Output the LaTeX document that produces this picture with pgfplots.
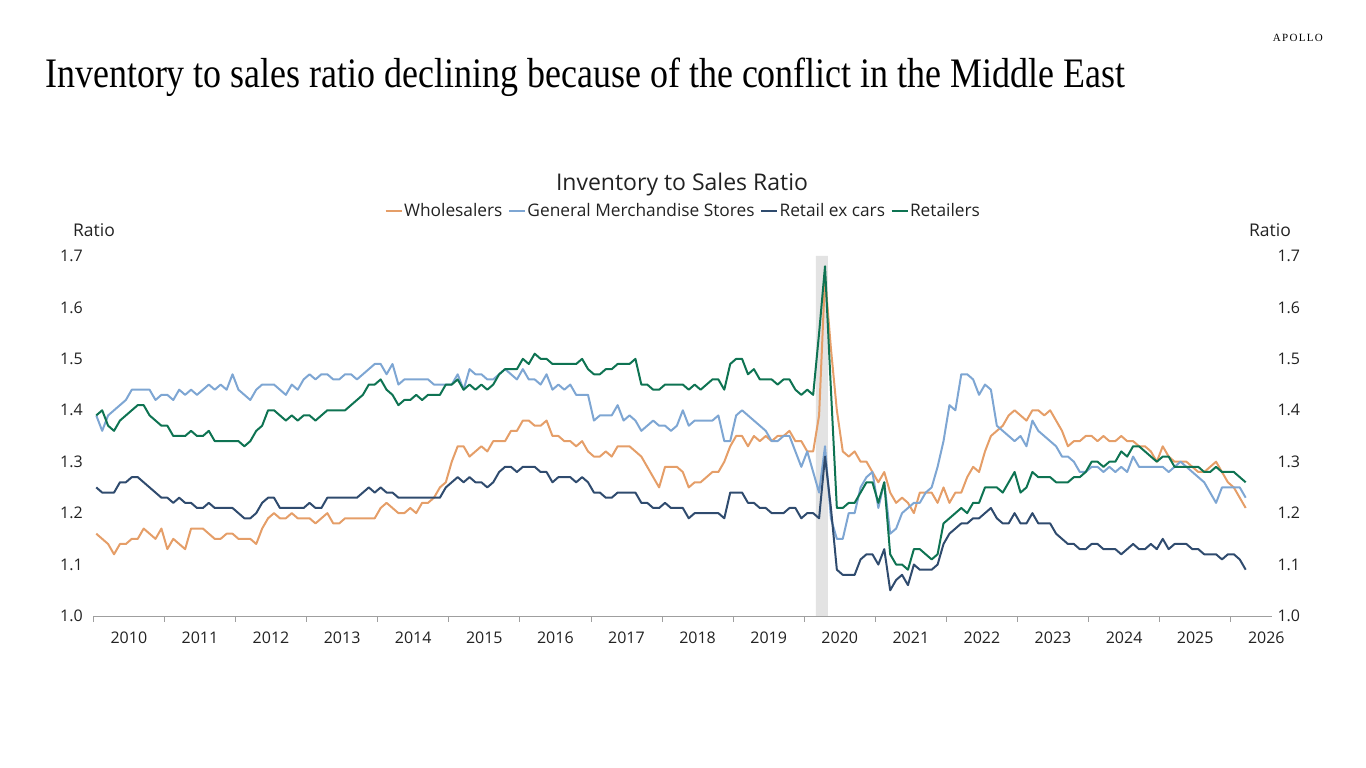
\documentclass[border=0pt]{standalone}
\usepackage{pgfplots}
\pgfplotsset{compat=1.18}
\usepackage{pgfplotstable}
\usepackage{graphicx}
\usepackage{fontspec}
\setmainfont{Open Sans}
\newfontfamily\titlefont{Liberation Serif}
\definecolor{cW}{HTML}{E59E68}
\definecolor{cG}{HTML}{7EA6D3}
\definecolor{cN}{HTML}{2F4B6E}
\definecolor{cR}{HTML}{0E7352}
\definecolor{txt}{HTML}{222222}

\pgfplotstableread{
m W G N R
0 1.16 1.39 1.25 1.39
1 1.15 1.36 1.24 1.40
2 1.14 1.39 1.24 1.37
3 1.12 1.40 1.24 1.36
4 1.14 1.41 1.26 1.38
5 1.14 1.42 1.26 1.39
6 1.15 1.44 1.27 1.40
7 1.15 1.44 1.27 1.41
8 1.17 1.44 1.26 1.41
9 1.16 1.44 1.25 1.39
10 1.15 1.42 1.24 1.38
11 1.17 1.43 1.23 1.37
12 1.13 1.43 1.23 1.37
13 1.15 1.42 1.22 1.35
14 1.14 1.44 1.23 1.35
15 1.13 1.43 1.22 1.35
16 1.17 1.44 1.22 1.36
17 1.17 1.43 1.21 1.35
18 1.17 1.44 1.21 1.35
19 1.16 1.45 1.22 1.36
20 1.15 1.44 1.21 1.34
21 1.15 1.45 1.21 1.34
22 1.16 1.44 1.21 1.34
23 1.16 1.47 1.21 1.34
24 1.15 1.44 1.20 1.34
25 1.15 1.43 1.19 1.33
26 1.15 1.42 1.19 1.34
27 1.14 1.44 1.20 1.36
28 1.17 1.45 1.22 1.37
29 1.19 1.45 1.23 1.40
30 1.20 1.45 1.23 1.40
31 1.19 1.44 1.21 1.39
32 1.19 1.43 1.21 1.38
33 1.20 1.45 1.21 1.39
34 1.19 1.44 1.21 1.38
35 1.19 1.46 1.21 1.39
36 1.19 1.47 1.22 1.39
37 1.18 1.46 1.21 1.38
38 1.19 1.47 1.21 1.39
39 1.20 1.47 1.23 1.40
40 1.18 1.46 1.23 1.40
41 1.18 1.46 1.23 1.40
42 1.19 1.47 1.23 1.40
43 1.19 1.47 1.23 1.41
44 1.19 1.46 1.23 1.42
45 1.19 1.47 1.24 1.43
46 1.19 1.48 1.25 1.45
47 1.19 1.49 1.24 1.45
48 1.21 1.49 1.25 1.46
49 1.22 1.47 1.24 1.44
50 1.21 1.49 1.24 1.43
51 1.20 1.45 1.23 1.41
52 1.20 1.46 1.23 1.42
53 1.21 1.46 1.23 1.42
54 1.20 1.46 1.23 1.43
55 1.22 1.46 1.23 1.42
56 1.22 1.46 1.23 1.43
57 1.23 1.45 1.23 1.43
58 1.25 1.45 1.23 1.43
59 1.26 1.45 1.25 1.45
60 1.30 1.45 1.26 1.45
61 1.33 1.47 1.27 1.46
62 1.33 1.44 1.26 1.44
63 1.31 1.48 1.27 1.45
64 1.32 1.47 1.26 1.44
65 1.33 1.47 1.26 1.45
66 1.32 1.46 1.25 1.44
67 1.34 1.46 1.26 1.45
68 1.34 1.47 1.28 1.47
69 1.34 1.48 1.29 1.48
70 1.36 1.47 1.29 1.48
71 1.36 1.46 1.28 1.48
72 1.38 1.48 1.29 1.50
73 1.38 1.46 1.29 1.49
74 1.37 1.46 1.29 1.51
75 1.37 1.45 1.28 1.50
76 1.38 1.47 1.28 1.50
77 1.35 1.44 1.26 1.49
78 1.35 1.45 1.27 1.49
79 1.34 1.44 1.27 1.49
80 1.34 1.45 1.27 1.49
81 1.33 1.43 1.26 1.49
82 1.34 1.43 1.27 1.50
83 1.32 1.43 1.26 1.48
84 1.31 1.38 1.24 1.47
85 1.31 1.39 1.24 1.47
86 1.32 1.39 1.23 1.48
87 1.31 1.39 1.23 1.48
88 1.33 1.41 1.24 1.49
89 1.33 1.38 1.24 1.49
90 1.33 1.39 1.24 1.49
91 1.32 1.38 1.24 1.50
92 1.31 1.36 1.22 1.45
93 1.29 1.37 1.22 1.45
94 1.27 1.38 1.21 1.44
95 1.25 1.37 1.21 1.44
96 1.29 1.37 1.22 1.45
97 1.29 1.36 1.21 1.45
98 1.29 1.37 1.21 1.45
99 1.28 1.40 1.21 1.45
100 1.25 1.37 1.19 1.44
101 1.26 1.38 1.20 1.45
102 1.26 1.38 1.20 1.44
103 1.27 1.38 1.20 1.45
104 1.28 1.38 1.20 1.46
105 1.28 1.39 1.20 1.46
106 1.30 1.34 1.19 1.44
107 1.33 1.34 1.24 1.49
108 1.35 1.39 1.24 1.50
109 1.35 1.40 1.24 1.50
110 1.33 1.39 1.22 1.47
111 1.35 1.38 1.22 1.48
112 1.34 1.37 1.21 1.46
113 1.35 1.36 1.21 1.46
114 1.34 1.34 1.20 1.46
115 1.35 1.34 1.20 1.45
116 1.35 1.35 1.20 1.46
117 1.36 1.35 1.21 1.46
118 1.34 1.32 1.21 1.44
119 1.34 1.29 1.19 1.43
120 1.32 1.32 1.20 1.44
121 1.32 1.28 1.20 1.43
122 1.39 1.24 1.19 1.55
123 1.66 1.33 1.31 1.68
124 1.52 1.19 1.21 1.44
125 1.40 1.15 1.09 1.21
126 1.32 1.15 1.08 1.21
127 1.31 1.20 1.08 1.22
128 1.32 1.20 1.08 1.22
129 1.30 1.25 1.11 1.24
130 1.30 1.27 1.12 1.26
131 1.28 1.28 1.12 1.26
132 1.26 1.21 1.10 1.22
133 1.28 1.26 1.13 1.26
134 1.24 1.16 1.05 1.12
135 1.22 1.17 1.07 1.10
136 1.23 1.20 1.08 1.10
137 1.22 1.21 1.06 1.09
138 1.20 1.22 1.10 1.13
139 1.24 1.22 1.09 1.13
140 1.24 1.24 1.09 1.12
141 1.24 1.25 1.09 1.11
142 1.22 1.29 1.10 1.12
143 1.25 1.34 1.14 1.18
144 1.22 1.41 1.16 1.19
145 1.24 1.40 1.17 1.20
146 1.24 1.47 1.18 1.21
147 1.27 1.47 1.18 1.20
148 1.29 1.46 1.19 1.22
149 1.28 1.43 1.19 1.22
150 1.32 1.45 1.20 1.25
151 1.35 1.44 1.21 1.25
152 1.36 1.37 1.19 1.25
153 1.37 1.36 1.18 1.24
154 1.39 1.35 1.18 1.26
155 1.40 1.34 1.20 1.28
156 1.39 1.35 1.18 1.24
157 1.38 1.33 1.18 1.25
158 1.40 1.38 1.20 1.28
159 1.40 1.36 1.18 1.27
160 1.39 1.35 1.18 1.27
161 1.40 1.34 1.18 1.27
162 1.38 1.33 1.16 1.26
163 1.36 1.31 1.15 1.26
164 1.33 1.31 1.14 1.26
165 1.34 1.30 1.14 1.27
166 1.34 1.28 1.13 1.27
167 1.35 1.28 1.13 1.28
168 1.35 1.29 1.14 1.30
169 1.34 1.29 1.14 1.30
170 1.35 1.28 1.13 1.29
171 1.34 1.29 1.13 1.30
172 1.34 1.28 1.13 1.30
173 1.35 1.29 1.12 1.32
174 1.34 1.28 1.13 1.31
175 1.34 1.31 1.14 1.33
176 1.33 1.29 1.13 1.33
177 1.33 1.29 1.13 1.32
178 1.32 1.29 1.14 1.31
179 1.30 1.29 1.13 1.30
180 1.33 1.29 1.15 1.31
181 1.31 1.28 1.13 1.31
182 1.30 1.29 1.14 1.29
183 1.30 1.30 1.14 1.29
184 1.30 1.29 1.14 1.29
185 1.29 1.28 1.13 1.29
186 1.28 1.27 1.13 1.29
187 1.28 1.26 1.12 1.28
188 1.29 1.24 1.12 1.28
189 1.30 1.22 1.12 1.29
190 1.28 1.25 1.11 1.28
191 1.26 1.25 1.12 1.28
192 1.25 1.25 1.12 1.28
193 1.23 1.25 1.11 1.27
194 1.21 1.23 1.09 1.26
}\datatable

\begin{document}
\begin{tikzpicture}
\path (0pt,0pt) rectangle (1366pt,768pt);
% page title
\node[anchor=base west, inner sep=0pt] at (45pt,680pt)
  {\resizebox{1080pt}{\height}{\titlefont\fontsize{42}{46}\selectfont Inventory to sales ratio declining because of the conflict in the Middle East}};
\node[anchor=base east, inner sep=0pt] at (1323pt,726pt)
  {\titlefont\fontsize{11}{13}\selectfont\addfontfeature{LetterSpace=12}APOLLO};
% chart title
\node[text=txt] at (682pt,583pt) {\fontsize{23}{27}\selectfont Inventory to Sales Ratio};
\node[text=txt] at (94pt,538pt) {\fontsize{17.5}{20}\selectfont Ratio};
\node[text=txt] at (1270pt,538pt) {\fontsize{17.5}{20}\selectfont Ratio};

\begin{axis}[
  at={(93.3pt,152pt)}, anchor=south west,
  scale only axis, width=1178.7pt, height=360pt,
  xmin=2010, xmax=2026.578, ymin=1, ymax=1.7,
  axis x line*=bottom, axis y line*=left,
  x axis line style={-, draw=gray!75, line width=0.9pt},
  y axis line style={draw=none},
  xtick={2010,2011,...,2026},
  xticklabels={},
  xtick style={draw=gray!75, line width=0.9pt},
  tick align=outside,
  major tick length=6pt,
  extra x ticks={2010.5,2011.5,...,2026.5},
  extra x tick labels={2010,2011,2012,2013,2014,2015,2016,2017,2018,2019,2020,2021,2022,2023,2024,2025,2026},
  extra x tick style={major tick length=0pt, xtick style={draw=none}, xticklabel style={yshift=-12pt}},
  ytick={1.0,1.1,...,1.7},
  ytick style={draw=none},
  tick label style={font=\fontsize{16}{19}\selectfont, text=txt},
  yticklabel style={xshift=-1pt},
  /pgf/number format/.cd, fixed, fixed zerofill, precision=1, assume math mode=true,
  /pgfplots/.cd,
  legend style={at={(0.5003,1.125)}, anchor=center, draw=none, fill=none,
    font=\fontsize{17.3}{20}\selectfont, text=txt,
    nodes={inner xsep=1.5pt, inner ysep=1pt},
    /tikz/every odd column/.append style={column sep=0pt},
    /tikz/every even column/.append style={column sep=4pt}},
  legend columns=4,
  legend image code/.code={\draw[#1, line width=2pt] (0pt,0pt) -- (16pt,0pt);},
  every axis plot/.append style={line width=2pt, line join=round},
  clip=false,
]
\addplot[fill=gray!22, draw=none, line width=0pt, forget plot] coordinates {(2020.164,1) (2020.164,1.7) (2020.33,1.7) (2020.33,1)} \closedcycle;
\addplot[cW, mark=none] table[x expr=2010+(\thisrow{m}+0.5)/12, y=W] {\datatable};
\addlegendentry{Wholesalers}
\addplot[cG, mark=none] table[x expr=2010+(\thisrow{m}+0.5)/12, y=G] {\datatable};
\addlegendentry{General Merchandise Stores}
\addplot[cN, mark=none] table[x expr=2010+(\thisrow{m}+0.5)/12, y=N] {\datatable};
\addlegendentry{Retail ex cars}
\addplot[cR, mark=none] table[x expr=2010+(\thisrow{m}+0.5)/12, y=R] {\datatable};
\addlegendentry{Retailers}
\end{axis}

\begin{axis}[
  at={(93.3pt,152pt)}, anchor=south west,
  scale only axis, width=1178.7pt, height=360pt,
  xmin=2010, xmax=2026.578, ymin=1, ymax=1.7,
  axis x line=none, axis y line*=right,
  y axis line style={draw=none},
  ytick={1.0,1.1,...,1.7},
  ytick style={draw=none},
  yticklabel pos=right,
  tick label style={font=\fontsize{16}{19}\selectfont, text=txt},
  yticklabel style={xshift=2pt},
  /pgf/number format/.cd, fixed, fixed zerofill, precision=1, assume math mode=true,
]
\addplot[draw=none, forget plot] coordinates {(2010,1) (2026,1)};
\end{axis}
\end{tikzpicture}
\end{document}
